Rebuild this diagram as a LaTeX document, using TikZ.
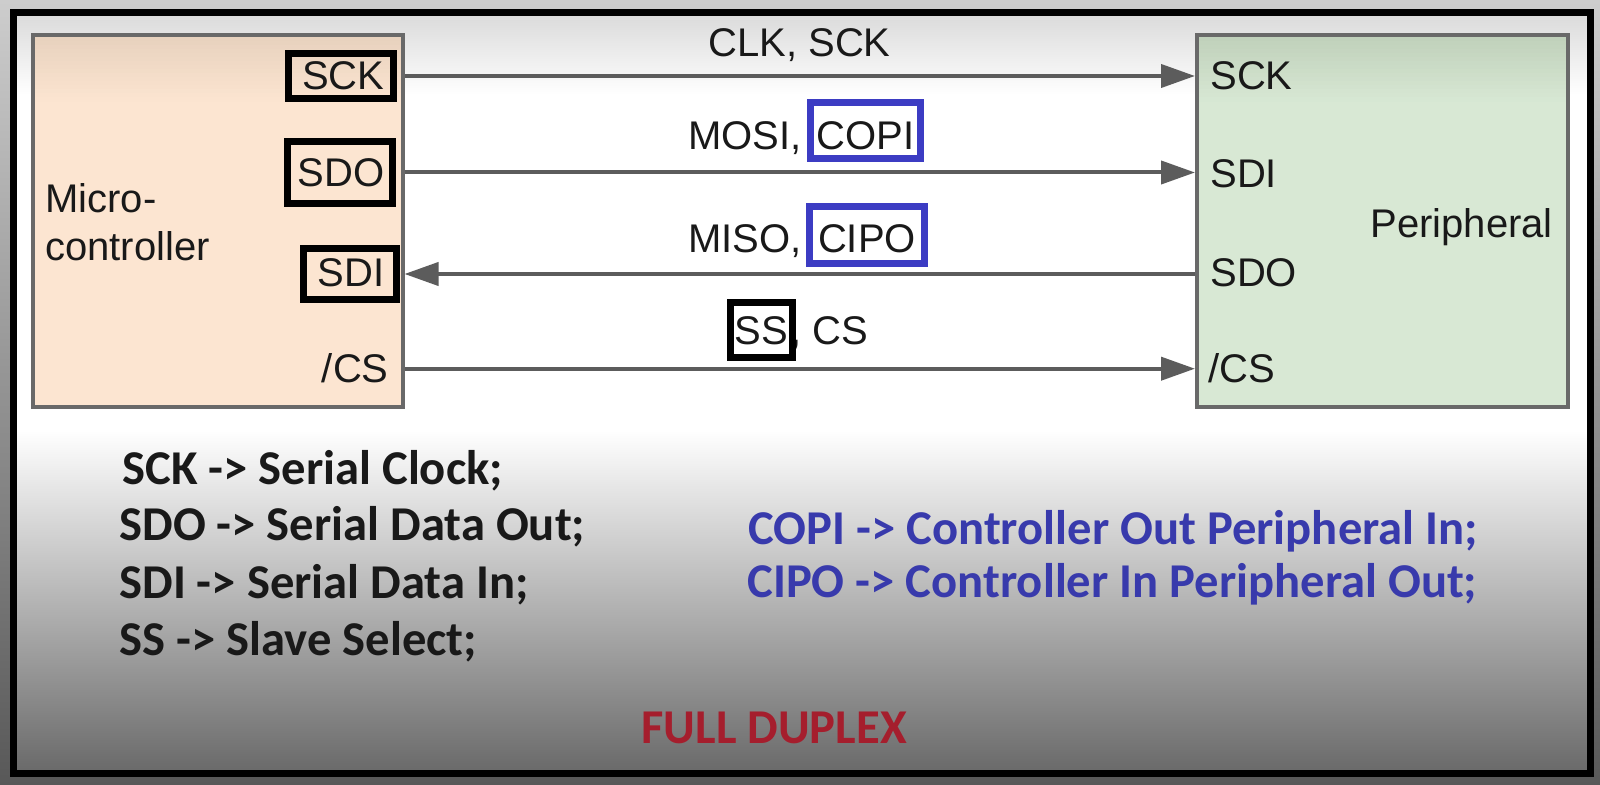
\documentclass[tikz,border=0pt]{standalone}
\usepackage{fontspec}
\setmainfont{Liberation Sans}
\newfontfamily\calibfont{Carlito}
\usetikzlibrary{arrows.meta,positioning}
\definecolor{peach}{RGB}{252,229,209}
\definecolor{peachtop}{RGB}{232,210,190}
\definecolor{mint}{RGB}{216,232,212}
\definecolor{minttop}{RGB}{192,209,187}
\definecolor{boxgray}{RGB}{105,105,105}
\definecolor{wiregray}{RGB}{92,92,92}
\definecolor{pinblue}{RGB}{60,60,195}
\definecolor{noteblue}{RGB}{56,58,172}
\definecolor{dupred}{RGB}{165,30,45}
\definecolor{txt}{RGB}{25,25,25}
\definecolor{bgtop}{RGB}{205,205,205}
\definecolor{bgbot}{RGB}{88,88,88}
\definecolor{hazetop}{RGB}{218,218,218}
\definecolor{hazebot}{RGB}{105,105,105}

\begin{document}
\begin{tikzpicture}[x=0.5pt, y=-0.5pt,
  every node/.style={inner sep=0pt, text=txt, font=\fontsize{20pt}{24pt}\selectfont},
  block/.style={draw=boxgray, line width=2pt},
  pinbox/.style={draw=black, line width=3.5pt, align=right, anchor=base east},
  aliasbox/.style={draw=pinblue, line width=3.5pt, anchor=base west},
  sig/.style={draw=wiregray, line width=2pt, -{Triangle[length=17pt, width=11.5pt]}},
  note/.style={anchor=base west, font=\calibfont\bfseries\fontsize{24.3pt}{28pt}\selectfont}]
\useasboundingbox (0,0) rectangle (1600,785);
% screen and frame
\shade[top color=bgtop, bottom color=bgbot] (0,0) rectangle (1600,785);
\fill[white] (13,13) rectangle (1590,773);
\shade[top color=hazetop, bottom color=white] (13,13) rectangle (1590,95);
\shade[top color=white, bottom color=hazebot] (13,430) rectangle (1590,773);
\draw[black, line width=3.5pt] (13,13) rectangle (1590,773);

% the two chips
\node[block, fill=peach, minimum width=185pt, minimum height=186pt] (mcu) at (217.5,221.5) {};
\node[block, fill=mint, minimum width=185.25pt, minimum height=186pt] (per) at (1382.25,221.5) {};
\foreach \k in {0,...,15}{
  \pgfmathtruncatemacro{\pct}{100-\k*6.25}
  \fill[peachtop!\pct!peach] (34.5,37.5+4*\k) rectangle (400.5,42.5+4*\k);
  \fill[minttop!\pct!mint] (1199,37.5+4*\k) rectangle (1565.5,42.5+4*\k);
}
\node[anchor=north west, align=left] (mcutxt) at (45,183.5) {Micro-\\controller};
\node[anchor=base west] (pertxt) at (1370,238) {Peripheral};

% controller pins
\node[pinbox, text width=44pt, inner xsep=4.25pt, text height=18.25pt, text depth=4.25pt] (msck) at (396.5,90) {SCK};
\node[pinbox, text width=45pt, inner xsep=3.75pt, text height=22.75pt, text depth=8.25pt] (msdo) at (395.5,187) {SDO};
\node[pinbox, text width=35pt, inner xsep=5.75pt, text height=19.25pt, text depth=6.25pt] (msdi) at (399.5,287) {SDI};
\node[anchor=base east] (mcs) at (389,383) {/CS};

% peripheral pins
\node[anchor=base west] (psck) at (1210,90) {SCK};
\node[anchor=base west] (psdi) at (1210,188) {SDI};
\node[anchor=base west] (psdo) at (1210,287) {SDO};
\node[anchor=base west] (pcs) at (1208,383) {/CS};

% wires
\draw[sig] (mcu.east |- msck) -- (per.west |- msck);
\draw[sig] (mcu.east |- msdo) -- (per.west |- msdo);
\draw[sig] (per.west |- msdi) -- (mcu.east |- msdi);
\draw[sig] (mcu.east |- mcs) -- (per.west |- mcs);

% signal names
\node[anchor=base west] (clk) at (708,57) {CLK, SCK};
\node[anchor=base west] (mosi) at (688,150) {MOSI,};
\node[aliasbox, inner xsep=3.25pt, text height=23.75pt, text depth=4.25pt] (copi) at (806.5,150) {COPI};
\node[anchor=base west] (miso) at (688,253) {MISO,};
\node[aliasbox, inner xsep=4.5pt, text height=23.25pt, text depth=5.25pt] (cipo) at (805.5,253) {CIPO};
\node[anchor=base west] (cs) at (790,345) {, CS};
\node[draw=black, line width=3.5pt, anchor=base west, inner xsep=2.25pt, text height=21.25pt, text depth=6.25pt] (ss) at (726.5,345) {SS};

% notes
\node[note] (nsck) at (122,485) {SCK -> Serial Clock;};
\node[note] (nsdo) at (119,540) {SDO -> Serial Data Out;};
\node[note] (nsdi) at (119,598) {SDI -> Serial Data In;};
\node[note] (nss) at (119,655) {SS -> Slave Select;};
\node[note, text=noteblue] (ncopi) at (748,545) {COPI -> Controller Out Peripheral In;};
\node[note, text=noteblue] (ncipo) at (747,597) {CIPO -> Controller In Peripheral Out;};
\node[note, text=dupred] (duplex) at (641,743) {FULL DUPLEX};
\end{tikzpicture}
\end{document}
